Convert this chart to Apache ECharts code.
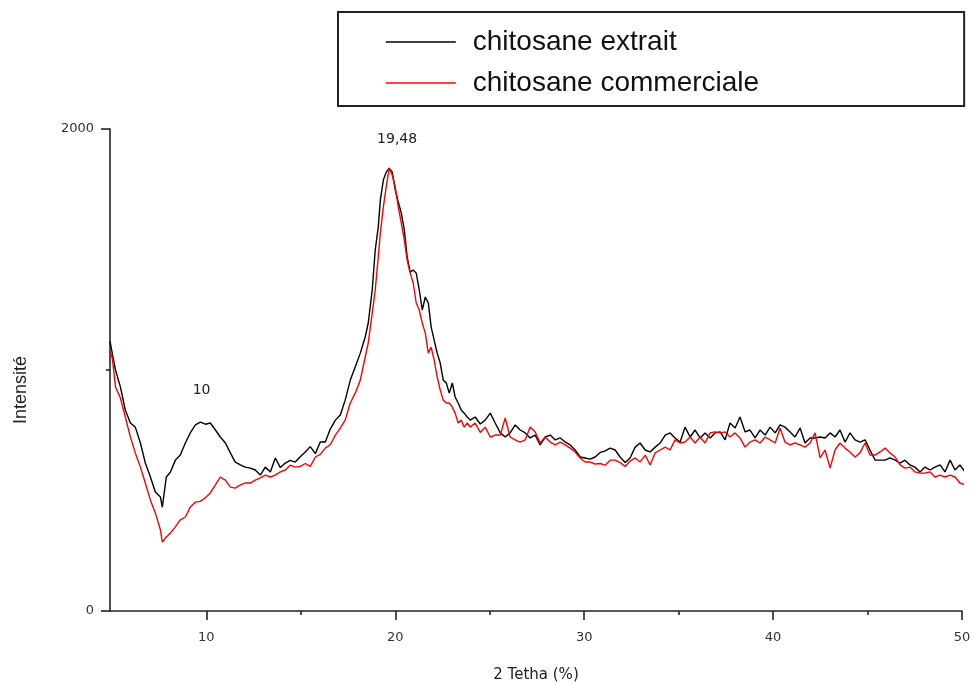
<!DOCTYPE html>
<html>
<head>
<meta charset="utf-8">
<script src="https://cdn.jsdelivr.net/npm/echarts@6/dist/echarts.min.js"></script>
<style>
html,body{margin:0;padding:0;background:#fff;}
#chart{width:973px;height:684px;}
</style>
</head>
<body>
<div id="chart"></div>
<script>
// 2-theta positions (degrees)
const theta = [4.9,5.03,5.19,5.45,5.71,5.98,6.24,6.51,6.77,7.04,7.30,7.57,7.67,7.88,8.10,8.36,8.62,8.89,9.15,9.42,9.68,9.95,10.21,10.48,10.74,11.01,11.27,11.53,11.80,12.06,12.33,12.59,12.86,13.12,13.39,13.65,13.92,14.18,14.44,14.71,14.97,15.24,15.50,15.77,16.03,16.30,16.56,16.83,17.09,17.35,17.62,17.88,18.15,18.41,18.57,18.78,18.94,19.10,19.21,19.37,19.52,19.68,19.84,20.00,20.16,20.32,20.48,20.63,20.79,20.95,21.11,21.27,21.43,21.59,21.75,21.90,22.06,22.22,22.38,22.54,22.70,22.86,23.02,23.17,23.33,23.49,23.65,23.81,23.97,24.23,24.50,24.76,25.03,25.29,25.56,25.82,26.08,26.35,26.61,26.88,27.14,27.41,27.67,27.94,28.20,28.47,28.73,29.00,29.26,29.52,29.79,30.05,30.32,30.58,30.85,31.11,31.38,31.64,31.90,32.17,32.43,32.70,32.96,33.23,33.49,33.76,34.02,34.29,34.55,34.81,35.08,35.34,35.61,35.87,36.14,36.40,36.67,36.93,37.20,37.46,37.72,37.99,38.25,38.52,38.78,39.05,39.31,39.58,39.84,40.11,40.37,40.63,40.90,41.16,41.43,41.69,41.96,42.22,42.49,42.75,43.02,43.28,43.54,43.81,44.07,44.34,44.60,44.87,45.13,45.40,45.66,45.93,46.19,46.46,46.72,46.98,47.25,47.51,47.78,48.04,48.31,48.57,48.84,49.10,49.37,49.63,49.89,50.16,50.32];

// chitosane extrait (black)
const extrait = [1120,1065,1000,930,834,780,763,697,614,556,494,473,431,556,577,626,647,697,739,772,784,775,780,751,722,697,656,618,606,597,593,585,564,597,577,635,595,614,625,618,640,660,682,653,701,701,755,792,813,875,958,1012,1070,1137,1195,1332,1498,1593,1705,1788,1821,1838,1821,1747,1697,1651,1581,1469,1406,1415,1402,1332,1249,1303,1278,1178,1124,1070,1029,958,946,904,946,888,863,834,821,805,792,805,776,792,821,780,739,722,739,772,751,739,718,730,689,722,730,710,718,701,689,668,639,635,630,639,658,664,676,668,639,616,635,680,697,668,660,680,697,730,739,718,701,763,722,751,718,739,718,739,743,710,780,759,805,743,751,718,751,730,763,739,772,763,743,722,759,697,718,718,722,718,739,722,751,701,739,710,701,710,668,626,626,626,635,626,614,626,606,597,577,597,585,597,606,577,626,585,606,577,585];

// chitosane commerciale (red)
const commerciale = [1083,1045,930,884,805,722,656,597,531,460,407,336,286,307,324,349,378,390,431,452,455,470,490,523,556,543,514,510,523,531,531,543,552,564,556,564,577,585,605,597,600,612,600,639,650,676,690,730,759,792,863,904,958,1054,1112,1236,1332,1469,1568,1676,1759,1838,1809,1759,1676,1610,1539,1456,1402,1361,1278,1249,1195,1153,1070,1095,1041,971,917,875,863,863,846,821,780,792,763,780,763,780,741,763,722,730,730,801,722,710,701,710,763,743,697,722,701,689,701,689,676,660,635,618,618,610,612,605,626,626,616,600,622,635,618,647,606,656,668,680,668,710,697,701,722,697,722,697,739,743,739,743,722,739,718,680,701,710,697,722,710,697,759,701,689,697,689,680,697,739,635,668,593,668,697,676,660,639,656,697,647,647,660,676,656,639,606,593,597,577,572,572,577,556,564,556,564,556,531,523,543];

const xMajorTicks = [10, 20, 30, 40, 50];
const xMinorTicks = [15, 25, 35, 45];
const peakNotes = [
  {name: '10', coord: [9.75, 917]},
  {name: '19,48', coord: [20.1, 1958]}
];

const chart = echarts.init(document.getElementById('chart'));
const tickFont = {fontFamily: 'DejaVu Sans', fontSize: 13, color: '#333'};
const axisLineStyle = {color: '#222', width: 1.6};

chart.setOption({
  backgroundColor: '#fff',
  animation: false,
  grid: {left: 110, right: 11, top: 129, bottom: 73, outerBoundsMode: 'none', containLabel: false},
  legend: {
    show: true,
    orient: 'vertical',
    left: 338, top: 12,
    padding: [15, 205, 8, 47],
    borderColor: '#222', borderWidth: 2,
    itemWidth: 70, itemHeight: 14, itemGap: 11,
    itemStyle: {opacity: 0},
    lineStyle: {width: 1.6},
    textStyle: {fontFamily: 'Liberation Sans', fontSize: 28, color: '#111', lineHeight: 30, padding: [0, 0, 0, 12]},
    data: ['chitosane extrait', 'chitosane commerciale']
  },
  xAxis: [{
    type: 'value', min: 4.9, max: 50,
    name: '2 Tetha (%)', nameLocation: 'middle', nameGap: 57,
    nameTextStyle: {fontFamily: 'DejaVu Sans', fontSize: 15, color: '#222'},
    axisLine: {show: true, lineStyle: axisLineStyle},
    axisTick: {show: true, customValues: xMajorTicks, length: 9, lineStyle: axisLineStyle},
    axisLabel: {customValues: xMajorTicks, margin: 20, ...tickFont},
    splitLine: {show: false}
  }, {
    type: 'value', min: 4.9, max: 50, position: 'bottom',
    axisLine: {show: false},
    axisTick: {show: true, customValues: xMinorTicks, length: 4, lineStyle: axisLineStyle},
    axisLabel: {show: false},
    splitLine: {show: false}
  }],
  yAxis: {
    type: 'value', min: 0, max: 2000, interval: 2000,
    name: 'Intensité', nameLocation: 'middle', nameGap: 80,
    nameTextStyle: {fontFamily: 'Liberation Sans', fontSize: 18, color: '#222', padding: [0, 40, 0, 0]},
    axisLine: {show: true, lineStyle: axisLineStyle},
    axisTick: {show: true, length: 9, lineStyle: axisLineStyle},
    minorTick: {show: true, splitNumber: 2, length: 4, lineStyle: axisLineStyle},
    axisLabel: {margin: 16, formatter: v => String(v), ...tickFont},
    splitLine: {show: false}
  },
  series: [{
    name: 'chitosane extrait', type: 'line', symbol: 'none', clip: false,
    lineStyle: {color: '#000', width: 1.4}, itemStyle: {color: '#000'},
    data: theta.map((t, i) => [t, extrait[i]]),
    markPoint: {
      symbol: 'circle', symbolSize: 0,
      label: {show: true, position: 'inside', formatter: '{b}', fontFamily: 'DejaVu Sans', fontSize: 14, color: '#222'},
      data: peakNotes.map(p => ({name: p.name, coord: p.coord}))
    },
    z: 2
  }, {
    name: 'chitosane commerciale', type: 'line', symbol: 'none', clip: false,
    lineStyle: {color: '#ff0000', width: 1.4}, itemStyle: {color: '#ff0000'},
    data: theta.map((t, i) => [t, commerciale[i]]),
    z: 3
  }]
});
</script>
</body>
</html>
